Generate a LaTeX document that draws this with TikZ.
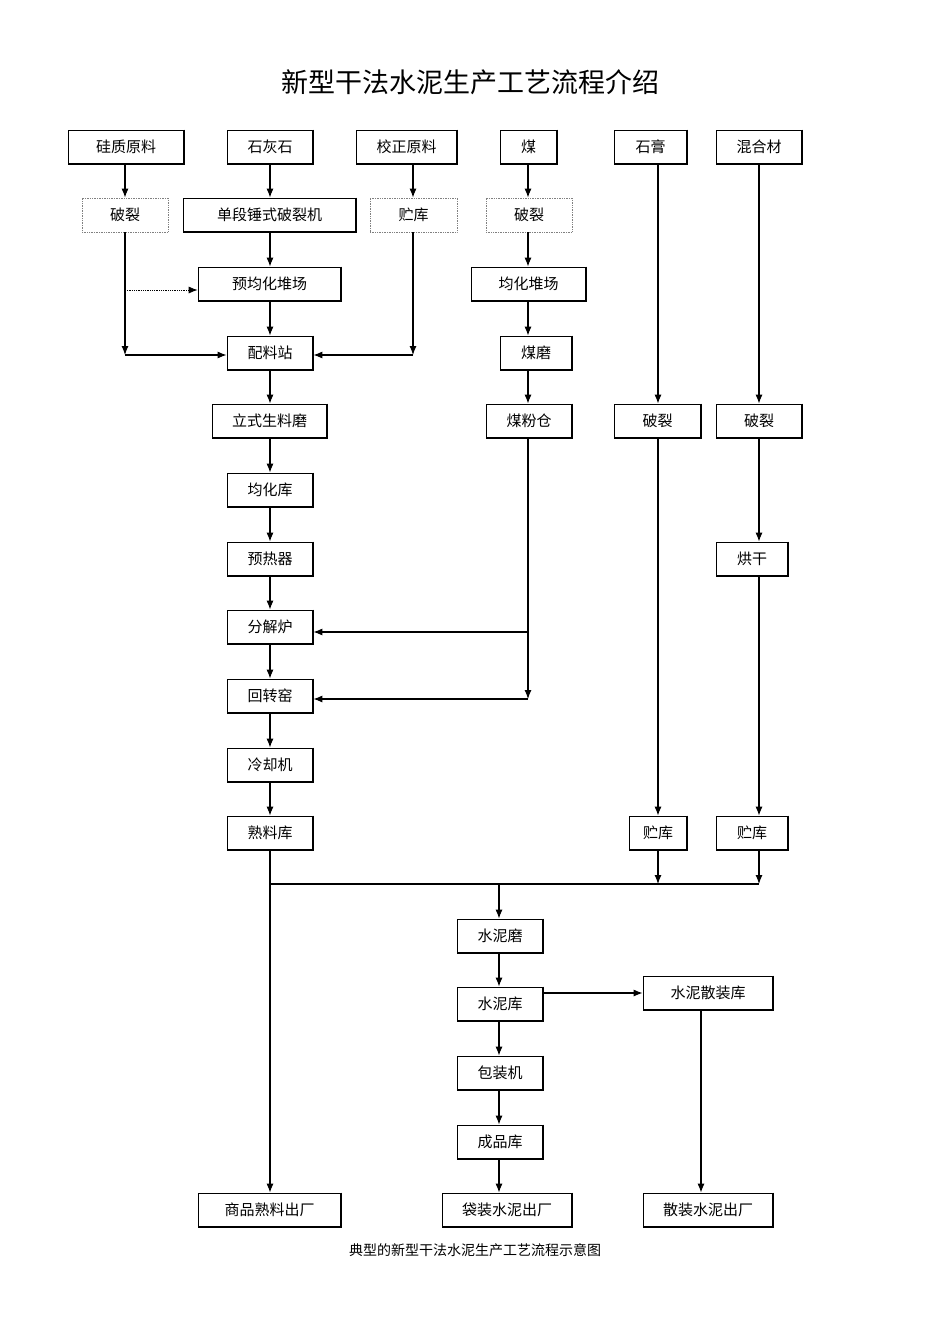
\documentclass[tikz,border=0pt]{standalone}
\usepackage{fontspec}
\setmainfont{Noto Sans CJK SC}
\usetikzlibrary{arrows.meta}
\newcommand\bx[7]{%
\node[draw,line width=0.7pt,#7,minimum width={(#4-#2)*1pt},minimum height={(#5-#3)*1pt},inner sep=0pt,font=\fontsize{15}{15}\selectfont] (#1) at ({(#2+#4)/2},{(#3+#5)/2}) {#6};}
\newcommand\sbx[6]{\bx{#1}{#2}{#3}{#4}{#5}{#6}{}%
\draw[line width=1.8pt] (#1.north east)--(#1.south east)--(#1.south west);}
\begin{document}
\begin{tikzpicture}[x=1pt,y=-1pt,>={Latex[length=9pt,width=7pt]},ar/.style={->,line width=1.1pt}]
\useasboundingbox (0,0) rectangle (950,1344);
\node[font=\fontsize{27}{27}\selectfont] (title) at (470,82) {新型干法水泥生产工艺流程介绍};
\sbx{a1}{68}{130}{184}{164}{硅质原料}
\sbx{a2}{227}{130}{313}{164}{石灰石}
\sbx{a3}{356}{130}{457}{164}{校正原料}
\sbx{a4}{500}{130}{557}{164}{煤}
\sbx{a5}{614}{130}{687}{164}{石膏}
\sbx{a6}{716}{130}{802}{164}{混合材}
\bx{b1}{82}{198}{168}{232}{破裂}{densely dotted,draw=gray}
\sbx{b2}{183}{198}{356}{232}{单段锤式破裂机}
\bx{b3}{370}{198}{457}{232}{贮库}{densely dotted,draw=gray}
\bx{b4}{486}{198}{572}{232}{破裂}{densely dotted,draw=gray}
\sbx{c1}{198}{267}{341}{301}{预均化堆场}
\sbx{c2}{471}{267}{586}{301}{均化堆场}
\sbx{d1}{227}{336}{313}{370}{配料站}
\sbx{d2}{500}{336}{572}{370}{煤磨}
\sbx{e1}{212}{404}{327}{438}{立式生料磨}
\sbx{e2}{486}{404}{572}{438}{煤粉仓}
\sbx{e3}{614}{404}{701}{438}{破裂}
\sbx{e4}{716}{404}{802}{438}{破裂}
\sbx{f1}{227}{473}{313}{507}{均化库}
\sbx{g1}{227}{542}{313}{576}{预热器}
\sbx{g2}{716}{542}{788}{576}{烘干}
\sbx{h1}{227}{610}{313}{644}{分解炉}
\sbx{i1}{227}{679}{313}{713}{回转窑}
\sbx{j1}{227}{748}{313}{782}{冷却机}
\sbx{k1}{227}{816}{313}{850}{熟料库}
\sbx{k2}{629}{816}{687}{850}{贮库}
\sbx{k3}{716}{816}{788}{850}{贮库}
\sbx{m1}{457}{919}{543}{953}{水泥磨}
\sbx{n1}{457}{987}{543}{1021}{水泥库}
\sbx{n2}{643}{976}{773}{1010}{水泥散装库}
\sbx{o1}{457}{1056}{543}{1090}{包装机}
\sbx{p1}{457}{1125}{543}{1159}{成品库}
\sbx{q1}{198}{1193}{341}{1227}{商品熟料出厂}
\sbx{q2}{442}{1193}{572}{1227}{袋装水泥出厂}
\sbx{q3}{643}{1193}{773}{1227}{散装水泥出厂}
\node[font=\fontsize{14}{14}\selectfont] (cap) at (475,1250) {典型的新型干法水泥生产工艺流程示意图};
\coordinate (L1) at (125,355); \coordinate (L2) at (125,290);
\coordinate (R1) at (413,355);
\draw[ar] (a1.south-|L1) -- (b1.north-|L1);
\draw[ar] (b1.south-|L1) -- (L1);
\draw[ar] (L1) -- (d1.west|-L1);
\draw[->,densely dotted,line width=0.8pt] (L2) -- (c1.west|-L2);
\draw[ar] (a3.south-|R1) -- (b3.north-|R1);
\draw[ar] (b3.south-|R1) -- (R1);
\draw[ar] (R1) -- (d1.east|-R1);
\foreach \u/\v in {a2/b2,b2/c1,c1/d1,d1/e1,e1/f1,f1/g1,g1/h1,h1/i1,i1/j1,j1/k1}
  \draw[ar] (\u.south-|a2) -- (\v.north-|a2);
\draw[ar] (k1.south-|a2) -- (q1.north-|a2);
\coordinate (C0) at (528,0);
\foreach \u/\v in {a4/b4,b4/c2,c2/d2,d2/e2} \draw[ar] (\u.south-|C0) -- (\v.north-|C0);
\coordinate (C1) at (528,632); \coordinate (C2) at (528,699);
\draw[ar] (e2.south-|C0) -- (C2);
\draw[ar] (C1) -- (h1.east|-C1);
\draw[ar] (C2) -- (i1.east|-C2);
\coordinate (G0) at (658,0); \coordinate (M0) at (759,0);
\draw[ar] (a5.south-|G0) -- (e3.north-|G0);
\draw[ar] (e3.south-|G0) -- (k2.north-|G0);
\draw[ar] (a6.south-|M0) -- (e4.north-|M0);
\draw[ar] (e4.south-|M0) -- (g2.north-|M0);
\draw[ar] (g2.south-|M0) -- (k3.north-|M0);
\coordinate (J1) at (270,884); \coordinate (J2) at (658,884); \coordinate (J3) at (759,884); \coordinate (J4) at (499,884);
\draw[line width=1.1pt] (J1) -- (J3);
\draw[ar] (k2.south-|G0) -- (J2);
\draw[ar] (k3.south-|M0) -- (J3);
\draw[ar] (J4) -- (m1.north-|J4);
\draw[ar] (m1.south-|J4) -- (n1.north-|J4);
\draw[ar] (n1.south-|J4) -- (o1.north-|J4);
\draw[ar] (o1.south-|J4) -- (p1.north-|J4);
\draw[ar] (p1.south-|J4) -- (q2.north-|J4);
\draw[ar] (n1.east|-n2.west) -- (n2.west);
\draw[ar] (n2.south-|701,0) -- (q3.north-|701,0);
\end{tikzpicture}
\end{document}
